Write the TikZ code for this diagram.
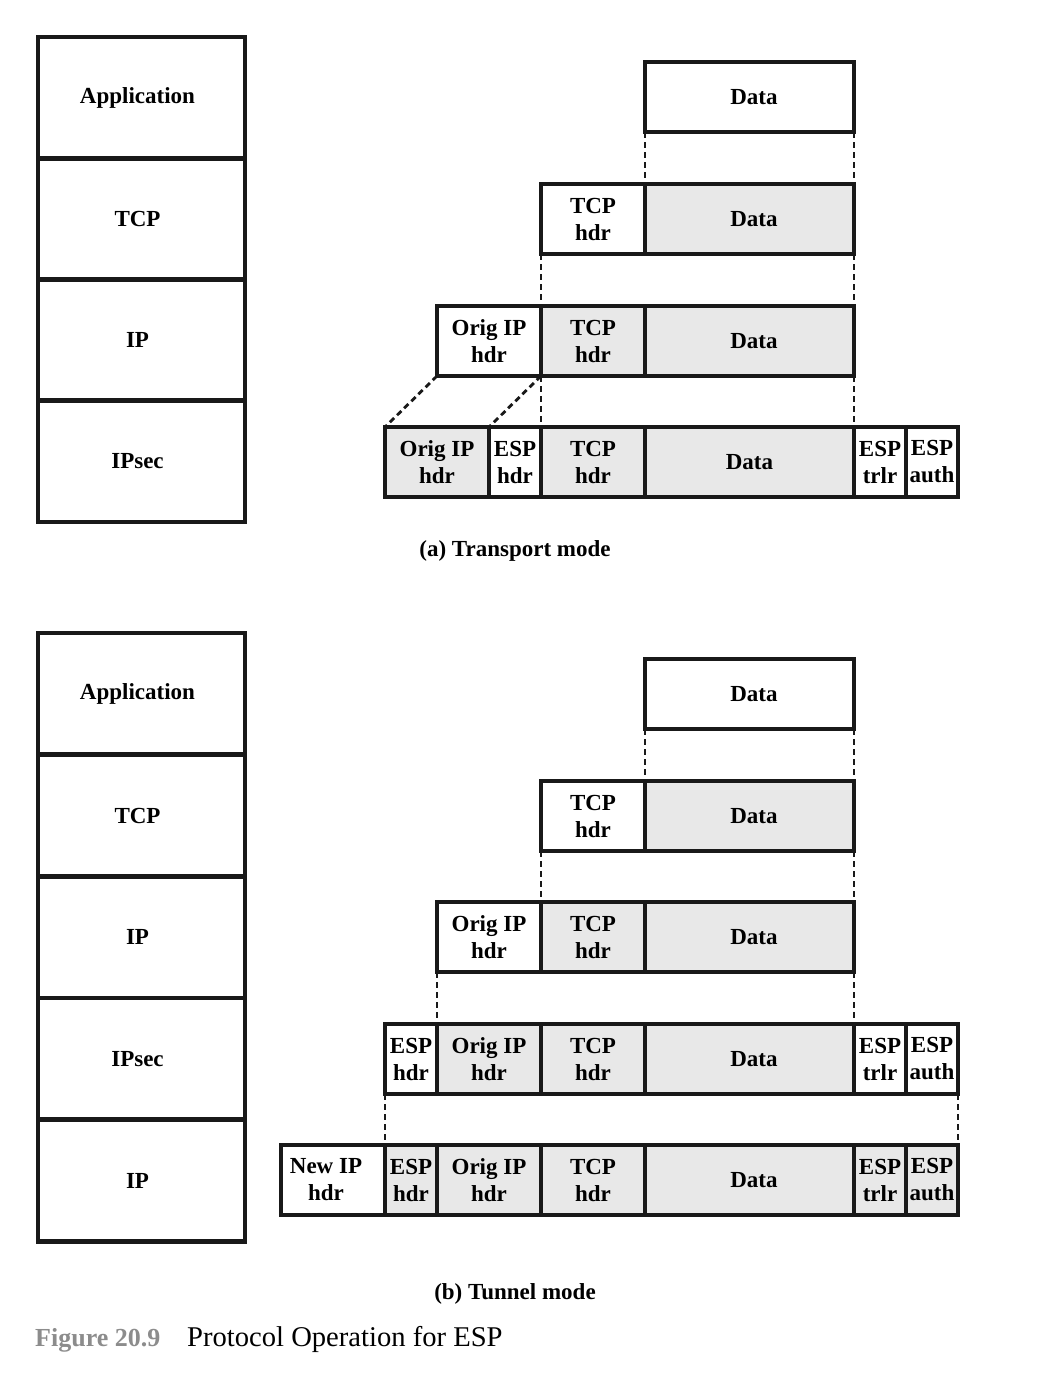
\documentclass[tikz,border=0pt]{standalone}
\usepackage{fontspec}
\setmainfont{Liberation Serif}
\newcommand{\rD}{\hspace*{9pt}Data}
\begin{document}
\begin{tikzpicture}[x=1pt,y=-1pt,
  lbl/.style={font=\fontsize{23}{27}\selectfont\bfseries},
  pk/.style={draw=black!90, line width=3.5pt, inner sep=0pt, outer sep=0pt, minimum height=70pt, align=center, lbl},
  wide/.style={pk, minimum width=104pt},
  narrow/.style={pk, minimum width=52pt},
  datab/.style={pk, minimum width=209pt},
  gr/.style={fill=black!9},
  wh/.style={fill=white},
  st/.style={draw=black!90, line width=4.5pt, inner sep=0pt, outer sep=0pt, minimum width=207pt, minimum height=121.5pt, lbl},
  dsh/.style={draw=black!90, line width=2.8pt, dash pattern=on 6pt off 4pt}
]
\useasboundingbox (0,0) rectangle (1044,1376);

% ---------- (a) stack ----------
\node[st] (sa1) at (141.5,97.6) {\hspace*{-8pt}Application};
\node[st] (sa2) at (141.5,218.9) {\hspace*{-8pt}TCP};
\node[st] (sa3) at (141.5,340.1) {\hspace*{-8pt}IP};
\node[st] (sa4) at (141.5,461.4) {\hspace*{-8pt}IPsec};

% ---------- (a) transport ----------
\node[datab, wh] (ta1d) at (749.5,97) {\rD};

\node[wide, wh] (ta2t) at (593,219) {TCP\\hdr};
\node[datab, gr] (ta2d) at (749.5,219) {\rD};

\node[wide, wh] (ta3i) at (489,341) {Orig IP\\hdr};
\node[wide, gr] (ta3t) at (593,341) {TCP\\hdr};
\node[datab, gr] (ta3d) at (749.5,341) {\rD};

\node[wide, gr] (ta4i) at (437,462) {Orig IP\\hdr};
\node[narrow, wh] (ta4e) at (515,462) {ESP\\hdr};
\node[wide, gr] (ta4t) at (593,462) {TCP\\hdr};
\node[datab, gr] (ta4d) at (749.5,462) {Data};
\node[narrow, wh] (ta4tr) at (880,462) {ESP\\trlr};
\node[narrow, wh] (ta4au) at (932,462) {ESP\\auth};

\draw[dsh] (ta1d.south west) -- (ta2d.north west);
\draw[dsh] (ta1d.south east) -- (ta2d.north east);
\draw[dsh] (ta2t.south west) -- (ta3t.north west);
\draw[dsh] (ta2d.south east) -- (ta3d.north east);
\draw[dsh] (ta3i.south west) -- (ta4i.north west);
\draw[dsh] (ta3i.south east) -- (ta4e.north west);
\draw[dsh] (ta3t.south west) -- (ta4t.north west);
\draw[dsh] (ta3d.south east) -- (ta4d.north east);

\node[lbl] (capa) at (515,551) {(a) Transport mode};

% ---------- (b) stack ----------
\node[st] (sb1) at (141.5,693.8) {\hspace*{-8pt}Application};
\node[st] (sb2) at (141.5,815.5) {\hspace*{-8pt}TCP};
\node[st] (sb3) at (141.5,937.2) {\hspace*{-8pt}IP};
\node[st] (sb4) at (141.5,1058.9) {\hspace*{-8pt}IPsec};
\node[st] (sb5) at (141.5,1180.6) {\hspace*{-8pt}IP};

% ---------- (b) tunnel ----------
\node[datab, wh] (tb1d) at (749.5,694) {\rD};

\node[wide, wh] (tb2t) at (593,816) {TCP\\hdr};
\node[datab, gr] (tb2d) at (749.5,816) {\rD};

\node[wide, wh] (tb3i) at (489,937) {Orig IP\\hdr};
\node[wide, gr] (tb3t) at (593,937) {TCP\\hdr};
\node[datab, gr] (tb3d) at (749.5,937) {\rD};

\node[narrow, wh] (tb4e) at (411,1059) {ESP\\hdr};
\node[wide, gr] (tb4i) at (489,1059) {Orig IP\\hdr};
\node[wide, gr] (tb4t) at (593,1059) {TCP\\hdr};
\node[datab, gr] (tb4d) at (749.5,1059) {\rD};
\node[narrow, wh] (tb4tr) at (880,1059) {ESP\\trlr};
\node[narrow, wh] (tb4au) at (932,1059) {ESP\\auth};

\node[wide, wh] (tb5n) at (333,1180) {\hspace*{-14pt}New IP\\\hspace*{-14pt}hdr};
\node[narrow, gr] (tb5e) at (411,1180) {ESP\\hdr};
\node[wide, gr] (tb5i) at (489,1180) {Orig IP\\hdr};
\node[wide, gr] (tb5t) at (593,1180) {TCP\\hdr};
\node[datab, gr] (tb5d) at (749.5,1180) {\rD};
\node[narrow, gr] (tb5tr) at (880,1180) {ESP\\trlr};
\node[narrow, gr] (tb5au) at (932,1180) {ESP\\auth};

\draw[dsh] (tb1d.south west) -- (tb2d.north west);
\draw[dsh] (tb1d.south east) -- (tb2d.north east);
\draw[dsh] (tb2t.south west) -- (tb3t.north west);
\draw[dsh] (tb2d.south east) -- (tb3d.north east);
\draw[dsh] (tb3i.south west) -- (tb4i.north west);
\draw[dsh] (tb3d.south east) -- (tb4d.north east);
\draw[dsh] (tb4e.south west) -- (tb5e.north west);
\draw[dsh] (tb4au.south east) -- (tb5au.north east);

\node[lbl] (capb) at (515,1294) {(b) Tunnel mode};

% ---------- caption ----------
\node[anchor=base west, inner sep=0pt, text=black!45, font=\fontsize{26}{30}\selectfont\bfseries] (fig) at (35,1346) {Figure 20.9};
\node[anchor=base west, inner sep=0pt, font=\fontsize{28.6}{32}\selectfont] (figt) at (187,1346) {Protocol Operation for ESP};
\end{tikzpicture}
\end{document}
